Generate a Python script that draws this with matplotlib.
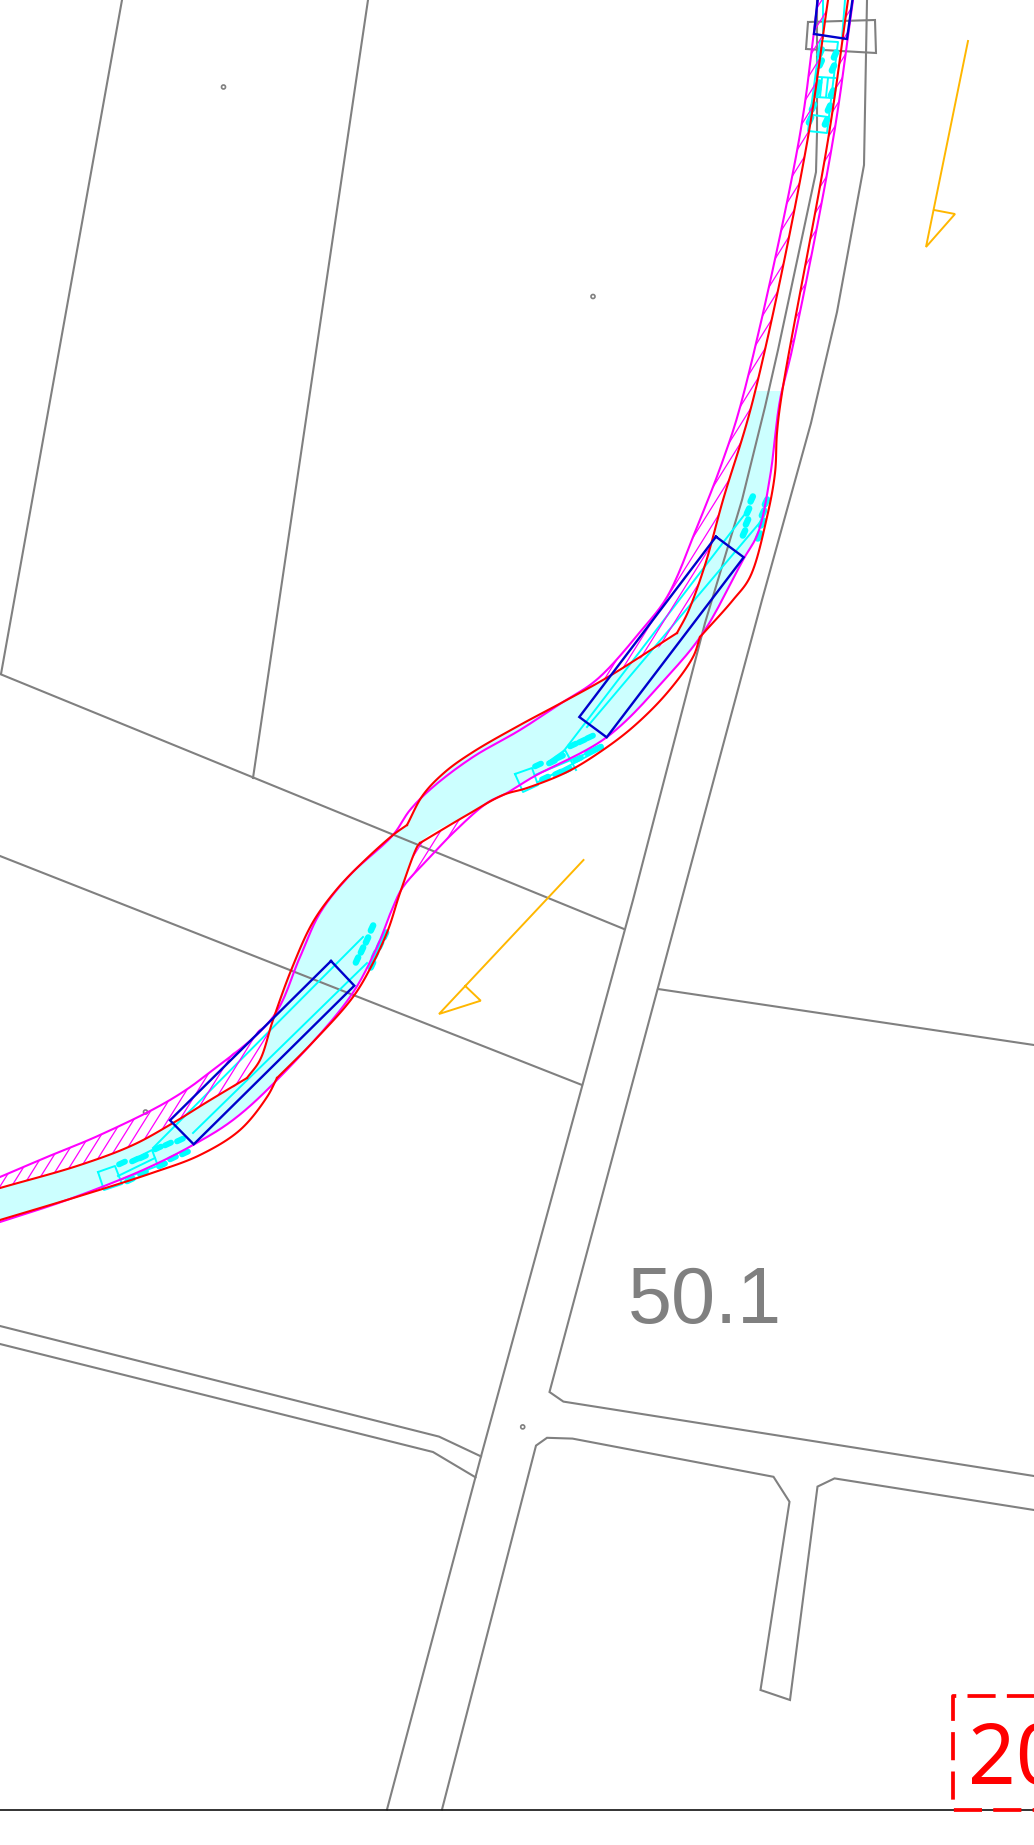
import numpy as np
import matplotlib
matplotlib.use("Agg")
import matplotlib.pyplot as plt
from matplotlib.patches import Polygon, Ellipse
from matplotlib.collections import LineCollection

W, H = 1034, 1845
GRAY, RED, MAG, BLUE, ORANGE, CYAN, FILL = '#808080', '#FF0000', '#FF00FF', '#0000CC', '#FFB700', '#00FFFF', '#CCFFFF'

gray_lines = [
    [(122, 0), (1, 674)],
    [(368, 0), (253, 778)],
    [(0, 674), (624, 929)],
    [(0, 856), (582, 1085)],
    [(658, 989), (1034, 1045)],
    [(817, 0), (817, 133), (816, 172), (778, 350), (765, 407), (742, 500), (705, 623), (633, 900), (481, 1456.4), (387, 1809.5)],
    [(867, 0), (864, 165), (837, 312), (811, 423), (762, 600), (549.5, 1392), (563.4, 1401.6), (1034, 1476)],
    [(442, 1809.5), (536, 1445.6), (547, 1437.8), (572.5, 1438.6), (773.5, 1476.8), (789.5, 1501.8), (760.5, 1690), (790, 1700),
     (817.5, 1486.6), (834.5, 1478.4), (1034, 1510)],
    [(0, 1326), (439, 1436.6), (481, 1456.4)],
    [(0, 1344), (433, 1452), (475.5, 1477.3)],
    [(808, 22), (875, 20), (876, 53), (806, 49), (808, 22)],
]
dots = [(223.5, 87), (593, 296.5), (145.5, 1112), (522.7, 1426.9)]

# ---- red offset lines
red_left = [
    [(828, 0), (807, 143), (753, 400), (723, 500), (705, 565), (688, 612), (677, 633)],
    [(677, 633), (608, 677), (563, 702), (520, 725), (473, 752), (445, 772), (423, 795), (407, 825)],
    [(407, 825), (393, 835), (363, 862), (337, 889), (313, 922), (292, 968), (273, 1020), (260, 1060), (247, 1078)],
    [(247, 1078), (207, 1102), (173, 1123), (133, 1145), (80, 1165), (0, 1188)],
]
red_right = [
    [(848, 0), (828, 140), (782, 393), (777, 433), (775, 473), (767, 517), (750, 577), (733, 600), (700, 637)],
    [(700, 637), (693, 657), (667, 693), (633, 727), (600, 752), (567, 772), (527, 788), (503, 795), (467, 815), (420, 843)],
    [(420, 843), (417, 847), (400, 893), (388, 930), (373, 963), (353, 997), (313, 1042), (277, 1078)],
    [(277, 1078), (267, 1097), (240, 1130), (200, 1155), (152, 1173), (83, 1195), (0, 1220)],
]
# ---- magenta boundary lines
mag_left = [(818, 0), (799, 140), (742, 400), (723, 460), (697, 527), (667, 597), (640, 632), (607, 670), (590, 685), (563, 702),
            (520, 730), (473, 757), (433, 787), (410, 810), (393, 835), (350, 875), (320, 913), (300, 957), (273, 1017),
            (213, 1070), (170, 1100), (100, 1135), (47, 1157), (0, 1177)]
mag_right = [(853, 0), (833, 140), (792, 350), (780, 400), (770, 477), (758, 533), (743, 560), (703, 633), (667, 677), (607, 737),
             (533, 777), (507, 793), (487, 803), (453, 833), (432, 855), (403, 887), (393, 907), (377, 947), (350, 997), (277, 1080),
             (233, 1120), (193, 1145), (143, 1170), (67, 1200), (0, 1222)]
# ---- light cyan carriageway
fill_left = [(755, 391), (723, 500), (705, 565), (688, 612), (677, 633), (608, 677), (563, 702), (520, 725), (473, 752), (445, 772), (423, 795), (407, 825),
             (393, 835), (363, 862), (337, 889), (313, 922), (292, 968), (273, 1020), (260, 1060), (247, 1078), (207, 1102), (173, 1123), (133, 1145), (80, 1165), (0, 1188)]
fill_right = [(781, 391), (770, 477), (758, 533), (743, 560), (703, 633), (667, 677), (607, 737), (533, 777), (507, 793), (467, 815), (420, 843), (403, 887),
              (393, 907), (377, 947), (350, 997), (277, 1080), (233, 1120), (193, 1145), (143, 1170), (67, 1200), (0, 1222)]
# ---- hatched strips
hatch_zones = [
    (mag_left[:10], [(828, 0), (807, 143), (753, 400), (723, 500), (705, 565), (688, 612), (677, 633), (608, 677), (563, 702)]),
    (mag_left[18:], [(273, 1020), (260, 1060), (247, 1078), (207, 1102), (173, 1123), (133, 1145), (80, 1165), (0, 1188)]),
    ([(853, 0), (833, 140), (792, 350), (781, 400)], [(848, 0), (828, 140), (781, 400)]),
    ([(503, 795), (467, 815), (420, 843), (417, 847), (403, 887)], [(507, 793), (487, 803), (453, 833), (432, 855), (403, 887)]),
]
# ---- blue rectangles
blue_rects = [
    [(818, -4), (814, 34), (847, 39), (853, -4)],
    [(716, 536.7), (743.7, 557.3), (606.7, 737.3), (579.3, 717), (716, 536.7)],
    [(331, 961), (354.3, 985.7), (193.7, 1144.3), (170, 1120.3), (331, 961)],
]
# ---- cyan thin lines
cyan_lines = [
    [(823, 0), (823, 38)], [(845, 0), (842, 38)],
    [(748, 510), (563, 752)], [(762, 520), (587, 727)],
    [(363, 937), (153, 1148)], [(367, 963), (193, 1133)],
    # top symbol
    [(820, 41), (838, 42), (827, 133), (808, 131), (820, 41)],
    [(813, 115), (828, 117)], [(815, 97), (833, 98)], [(819, 77), (835, 78)],
    [(822, 78), (820, 97)], [(828, 78), (826, 97)],
    # lower-right symbol of the middle rectangle
    [(515, 774), (532, 768), (538, 785), (523, 792), (515, 774)],
    [(535, 775), (590, 752)], [(538, 782), (603, 748)], [(548, 762), (565, 750), (576, 770)],
    # lower symbol of the lower rectangle
    [(98, 1172), (115, 1166), (122, 1184), (104, 1190), (98, 1172)],
    [(118, 1176), (155, 1158)], [(120, 1180), (160, 1165)], [(132, 1160), (152, 1150), (158, 1166)],
]
# ---- cyan markings (centre of each short thick dash)
dash_pts = [
    (820.7, 52), (820.7, 63), (818, 85), (817, 92), (813, 107), (810, 120),
    (835, 55), (833, 68), (832, 93), (829, 108), (826, 122),
    (751.7, 499), (748, 511), (747, 522), (744, 533), (766, 502), (763, 513), (762, 523), (759, 536),
    (372, 928), (367, 940), (362, 950), (357, 960), (385, 935), (380, 945), (375, 955), (372, 965),
]
dash_pts_flat = [
    (590, 737), (582, 741), (573, 745), (560, 757), (552, 762), (538, 765),
    (598, 748), (590, 752), (578, 759), (567, 770), (558, 773), (545, 778),
    (180, 1140), (168, 1144), (158, 1148), (143, 1157), (135, 1160), (122, 1163),
    (185, 1153), (173, 1158), (162, 1165), (143, 1173), (130, 1180),
]
# ---- orange direction arrows
orange_lines = [
    [(968, 41), (926, 247), (955, 214), (934, 210)],
    [(583.5, 860), (439, 1014), (480.7, 1000.7), (465.3, 986)],
]
base_line_y = 1810
label_main, label_box = "50.1", "20"


def smooth(pts, n=14):
    """Centripetal Catmull-Rom through the traced points."""
    p = np.array(pts, float)
    if len(p) < 3:
        return p
    q = np.vstack([2 * p[0] - p[1], p, 2 * p[-1] - p[-2]])
    out = []
    for i in range(1, len(q) - 2):
        p0, p1, p2, p3 = q[i - 1], q[i], q[i + 1], q[i + 2]
        t0 = 0.0
        t1 = t0 + np.linalg.norm(p1 - p0) ** 0.5
        t2 = t1 + np.linalg.norm(p2 - p1) ** 0.5
        t3 = t2 + np.linalg.norm(p3 - p2) ** 0.5
        t = np.linspace(t1, t2, n, endpoint=False)[:, None]
        a1 = (t1 - t) / (t1 - t0) * p0 + (t - t0) / (t1 - t0) * p1
        a2 = (t2 - t) / (t2 - t1) * p1 + (t - t1) / (t2 - t1) * p2
        a3 = (t3 - t) / (t3 - t2) * p2 + (t - t2) / (t3 - t2) * p3
        b1 = (t2 - t) / (t2 - t0) * a1 + (t - t0) / (t2 - t0) * a2
        b2 = (t3 - t) / (t3 - t1) * a2 + (t - t1) / (t3 - t1) * a3
        out.append((t2 - t) / (t2 - t1) * b1 + (t - t1) / (t2 - t1) * b2)
    out.append(p[-1:])
    return np.vstack(out)


fig = plt.figure(figsize=(W / 100, H / 100), dpi=100)
ax = fig.add_axes([0, 0, 1, 1])
ax.set_xlim(0, W)
ax.set_ylim(H, 0)
ax.axis('off')

ax.add_patch(Polygon(np.vstack([smooth(fill_left), smooth(fill_right)[::-1]]), closed=True, fc=FILL, ec='none', zorder=1))

for ln in gray_lines:
    a = np.array(ln)
    ax.plot(a[:, 0], a[:, 1], color=GRAY, lw=1.5, zorder=2, solid_joinstyle='miter')
for x, y in dots:
    ax.add_patch(Ellipse((x, y), 4.0, 4.0, fc='white', ec=GRAY, lw=1.2, zorder=2))

for ln in cyan_lines:
    a = np.array(ln)
    ax.plot(a[:, 0], a[:, 1], color=CYAN, lw=1.4, zorder=3)
for (x, y) in dash_pts:
    ax.plot([x + 1.2, x - 1.2], [y - 2.6, y + 2.6], color=CYAN, lw=4.6, solid_capstyle='round', zorder=3)
for (x, y) in dash_pts_flat:
    ax.plot([x + 3.0, x - 3.0], [y - 1.4, y + 1.4], color=CYAN, lw=4.2, solid_capstyle='round', zorder=3)

# hatching clipped to each strip
angle = np.deg2rad(58)
step = 11.5
span = 2000
dx, dy = np.cos(angle) * span, -np.sin(angle) * span
segs = [[(x0 - dx, 900 - dy), (x0 + dx, 900 + dy)] for x0 in np.arange(-1500, 2600, step)]
for side_a, side_b in hatch_zones:
    poly = Polygon(np.vstack([smooth(side_a), smooth(side_b)[::-1]]), closed=True, fc='none', ec='none', zorder=4)
    ax.add_patch(poly)
    lc = LineCollection(segs, colors=MAG, linewidths=0.9, zorder=4)
    ax.add_collection(lc)
    lc.set_clip_path(poly)

for curve in (mag_left, mag_right):
    a = smooth(curve)
    ax.plot(a[:, 0], a[:, 1], color=MAG, lw=1.5, zorder=5)
for group in (red_left, red_right):
    for sec in group:
        a = smooth(sec)
        ax.plot(a[:, 0], a[:, 1], color=RED, lw=1.5, zorder=6)
for ln in blue_rects:
    a = np.array(ln)
    ax.plot(a[:, 0], a[:, 1], color=BLUE, lw=1.7, zorder=7, solid_joinstyle='miter')
for ln in orange_lines:
    a = np.array(ln)
    ax.plot(a[:, 0], a[:, 1], color=ORANGE, lw=1.4, zorder=7, solid_joinstyle='miter')

ax.plot([0, W], [base_line_y, base_line_y], color='#111111', lw=1.2, zorder=8)

ax.text(628, 1323, label_main, color=GRAY, fontsize=57, family='Liberation Sans', va='baseline', ha='left', zorder=9)
ax.plot([1040, 953, 953, 1040], [1696, 1696, 1809.5, 1809.5], color=RED, lw=2.7, dashes=(7.5, 3.0), dash_capstyle='butt', zorder=9)
ax.text(968, 1784, label_box, color=RED, fontsize=60, family='Noto Sans', va='baseline', ha='left', zorder=9, clip_on=True)

fig.savefig('out.png', dpi=100, facecolor='white')
